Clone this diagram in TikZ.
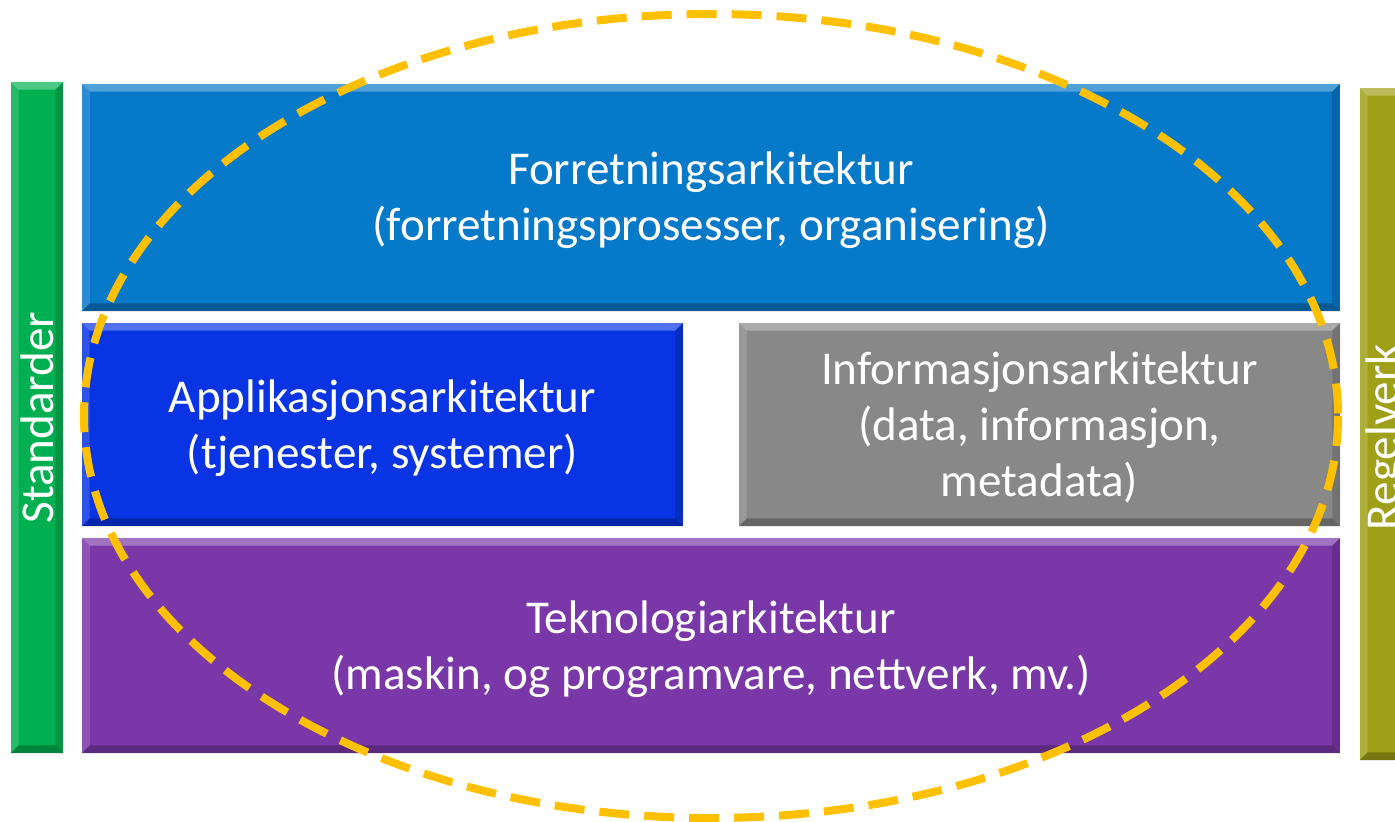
\documentclass[tikz,border=0pt]{standalone}
\usepackage{fontspec}
\setmainfont{Carlito}
\usepackage{tikz}
\usetikzlibrary{calc}
\definecolor{bizblue}{RGB}{7,121,201}
\definecolor{appblue}{RGB}{8,52,228}
\definecolor{infogray}{RGB}{136,136,136}
\definecolor{techpurple}{RGB}{122,55,168}
\definecolor{stdgreen}{RGB}{0,176,80}
\definecolor{regolive}{RGB}{160,160,24}
\definecolor{ringorange}{RGB}{255,192,0}
\tikzstyle{layerbox} = [rectangle, inner sep=0pt]
\tikzstyle{layertext} = [inner sep=0pt, text=white, align=center,
    font=\fontsize{26.8}{32}\selectfont]
\tikzstyle{sidebar} = [rectangle, inner sep=0pt, text=white,
    font=\fontsize{26.8}{32}\selectfont]
\tikzstyle{ring} = [draw=ringorange, line width=0.16cm,
    dash pattern=on 0.6cm off 0.3cm]
% bevelled edges of a box
\newcommand{\bevel}[1]{%
    \fill[white, opacity=0.3] (#1.north west) -- (#1.north east)
        -- ($(#1.north east)+(-8,8)$) -- ($(#1.north west)+(8,8)$) -- cycle;
    \fill[white, opacity=0.15] (#1.north west) -- ($(#1.north west)+(8,8)$)
        -- ($(#1.south west)+(8,-8)$) -- (#1.south west) -- cycle;
    \fill[black, opacity=0.25] (#1.south west) -- (#1.south east)
        -- ($(#1.south east)+(-8,-8)$) -- ($(#1.south west)+(8,-8)$) -- cycle;
    \fill[black, opacity=0.15] (#1.north east) -- ($(#1.north east)+(-8,8)$)
        -- ($(#1.south east)+(-8,-8)$) -- (#1.south east) -- cycle;
}

\begin{document}
\begin{tikzpicture}[x=0.02cm, y=-0.02cm]
    \clip (0,0) rectangle (1395,821);
    \useasboundingbox (0,0) rectangle (1395,821);
    \fill[white] (0,0) rectangle (1395,821);

    % layers
    \node[layerbox, fill=bizblue, minimum width=25.16cm, minimum height=4.54cm] (biz) at (711,197.5) {};
    \node[layerbox, fill=appblue, minimum width=12.02cm, minimum height=4.06cm] (app) at (382.5,424.5) {};
    \node[layerbox, fill=infogray, minimum width=12.02cm, minimum height=4.06cm] (info) at (1039.5,424.5) {};
    \node[layerbox, fill=techpurple, minimum width=25.16cm, minimum height=4.3cm] (tech) at (711,645.5) {};
    \node[sidebar, fill=stdgreen, minimum width=1.04cm, minimum height=13.42cm] (std) at (37,417.5) {};
    \node[sidebar, fill=regolive, minimum width=1.04cm, minimum height=13.44cm] (reg) at (1386,424) {};

    \bevel{biz}
    \bevel{app}
    \bevel{info}
    \bevel{tech}
    \bevel{std}
    \bevel{reg}

    \node[layertext] (biztext) at ($(biz.center)+(0,3)$)
        {Forretningsarkitektur\\(forretningsprosesser, organisering)};
    \node[layertext] (apptext) at ($(app.center)+(0,4)$)
        {Applikasjonsarkitektur\\(tjenester, systemer)};
    \node[layertext] (infotext) at ($(info.center)+(0,3)$)
        {Informasjonsarkitektur\\(data, informasjon,\\metadata)};
    \node[layertext] (techtext) at ($(tech.center)+(0,4)$)
        {Teknologiarkitektur\\(maskin, og programvare, nettverk, mv.)};
    \node[sidebar, rotate=90] (stdlabel) at (std.center) {Standarder};
    \node[sidebar, rotate=90] (reglabel) at ($(reg.center)+(0,13)$) {Regelverk};

    \draw[ring] (711,416) ellipse [x radius=627, y radius=402];
\end{tikzpicture}
\end{document}
